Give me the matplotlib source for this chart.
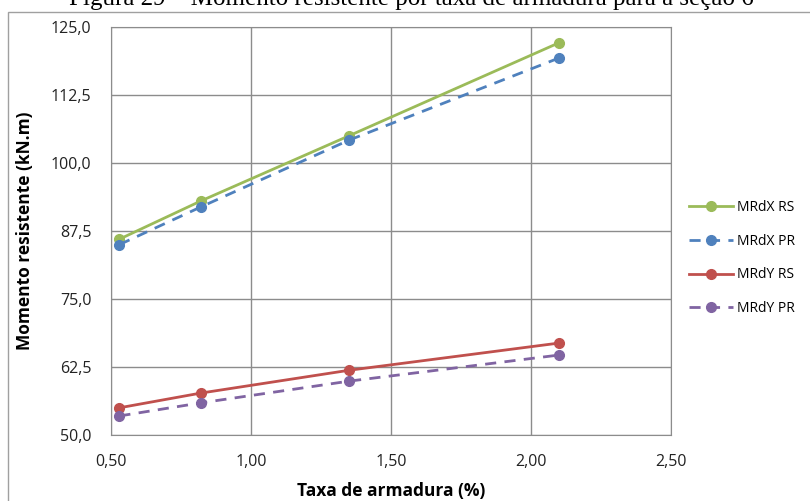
import matplotlib.pyplot as plt
from matplotlib.ticker import FuncFormatter

# data
taxa = [0.53, 0.82, 1.35, 2.10]
mrdx_rs = [86.0, 93.0, 105.0, 122.1]
mrdx_pr = [85.0, 91.9, 104.2, 119.3]
mrdy_rs = [55.0, 57.7, 61.9, 66.9]
mrdy_pr = [53.5, 55.9, 59.9, 64.7]
x_ticks = [0.5, 1.0, 1.5, 2.0, 2.5]
y_ticks = [50.0, 62.5, 75.0, 87.5, 100.0, 112.5, 125.0]

plt.rcParams['font.family'] = ['Open Sans', 'DejaVu Sans']

fig = plt.figure(figsize=(8.1, 5.01), dpi=100)
ax = fig.add_axes([111 / 810, 1 - 435 / 501, 560 / 810, 408 / 501])

# chart frame (cut off on right / bottom like the reference)
fig.patches.append(plt.Rectangle((8 / 810, -0.05), 1.0, 1 - 12 / 501 + 0.05,
                                 transform=fig.transFigure, fill=False,
                                 edgecolor='#a0a0a0', lw=1))
fig.text(411 / 810, 1 - 5 / 501, 'Figura 29 – Momento resistente por taxa de armadura para a seção 6',
         family='Liberation Serif', fontsize=18, ha='center', va='baseline')

ax.plot(taxa, mrdx_rs, '-', color='#9BBB59', lw=2, marker='o', ms=7, label='MRdX RS')
ax.plot(taxa, mrdx_pr, '--', color='#4F81BD', lw=2, marker='o', ms=7, label='MRdX PR', dashes=(4, 3))
ax.plot(taxa, mrdy_rs, '-', color='#C0504D', lw=2, marker='o', ms=7, label='MRdY RS')
ax.plot(taxa, mrdy_pr, '--', color='#8064A2', lw=2, marker='o', ms=7, label='MRdY PR', dashes=(4, 3))

ax.set_xlim(0.5, 2.5)
ax.set_ylim(50, 125)
ax.set_xticks(x_ticks)
ax.set_yticks(y_ticks)
ax.xaxis.set_major_formatter(FuncFormatter(lambda v, p: f'{v:.2f}'.replace('.', ',')))
ax.yaxis.set_major_formatter(FuncFormatter(lambda v, p: f'{v:.1f}'.replace('.', ',')))
ax.tick_params(length=0, labelsize=11.5, colors='#222222')
ax.tick_params(axis='x', pad=14)
ax.tick_params(axis='y', pad=14)
ax.grid(True, color='#8c8c8c', lw=1)
ax.set_axisbelow(True)
for s in ax.spines.values():
    s.set_color('#8c8c8c')

ax.set_xlabel('Taxa de armadura (%)', fontsize=12.5, fontweight='bold', labelpad=8)
ax.set_ylabel('Momento resistente (kN.m)', fontsize=12.5, fontweight='bold', labelpad=12)

fig.legend(loc='center left', bbox_to_anchor=(676 / 810, 1 - 258 / 501), frameon=False,
           fontsize=10, handlelength=3.2, labelspacing=1.35, handletextpad=0.3)

fig.savefig('out.png', dpi=100)
